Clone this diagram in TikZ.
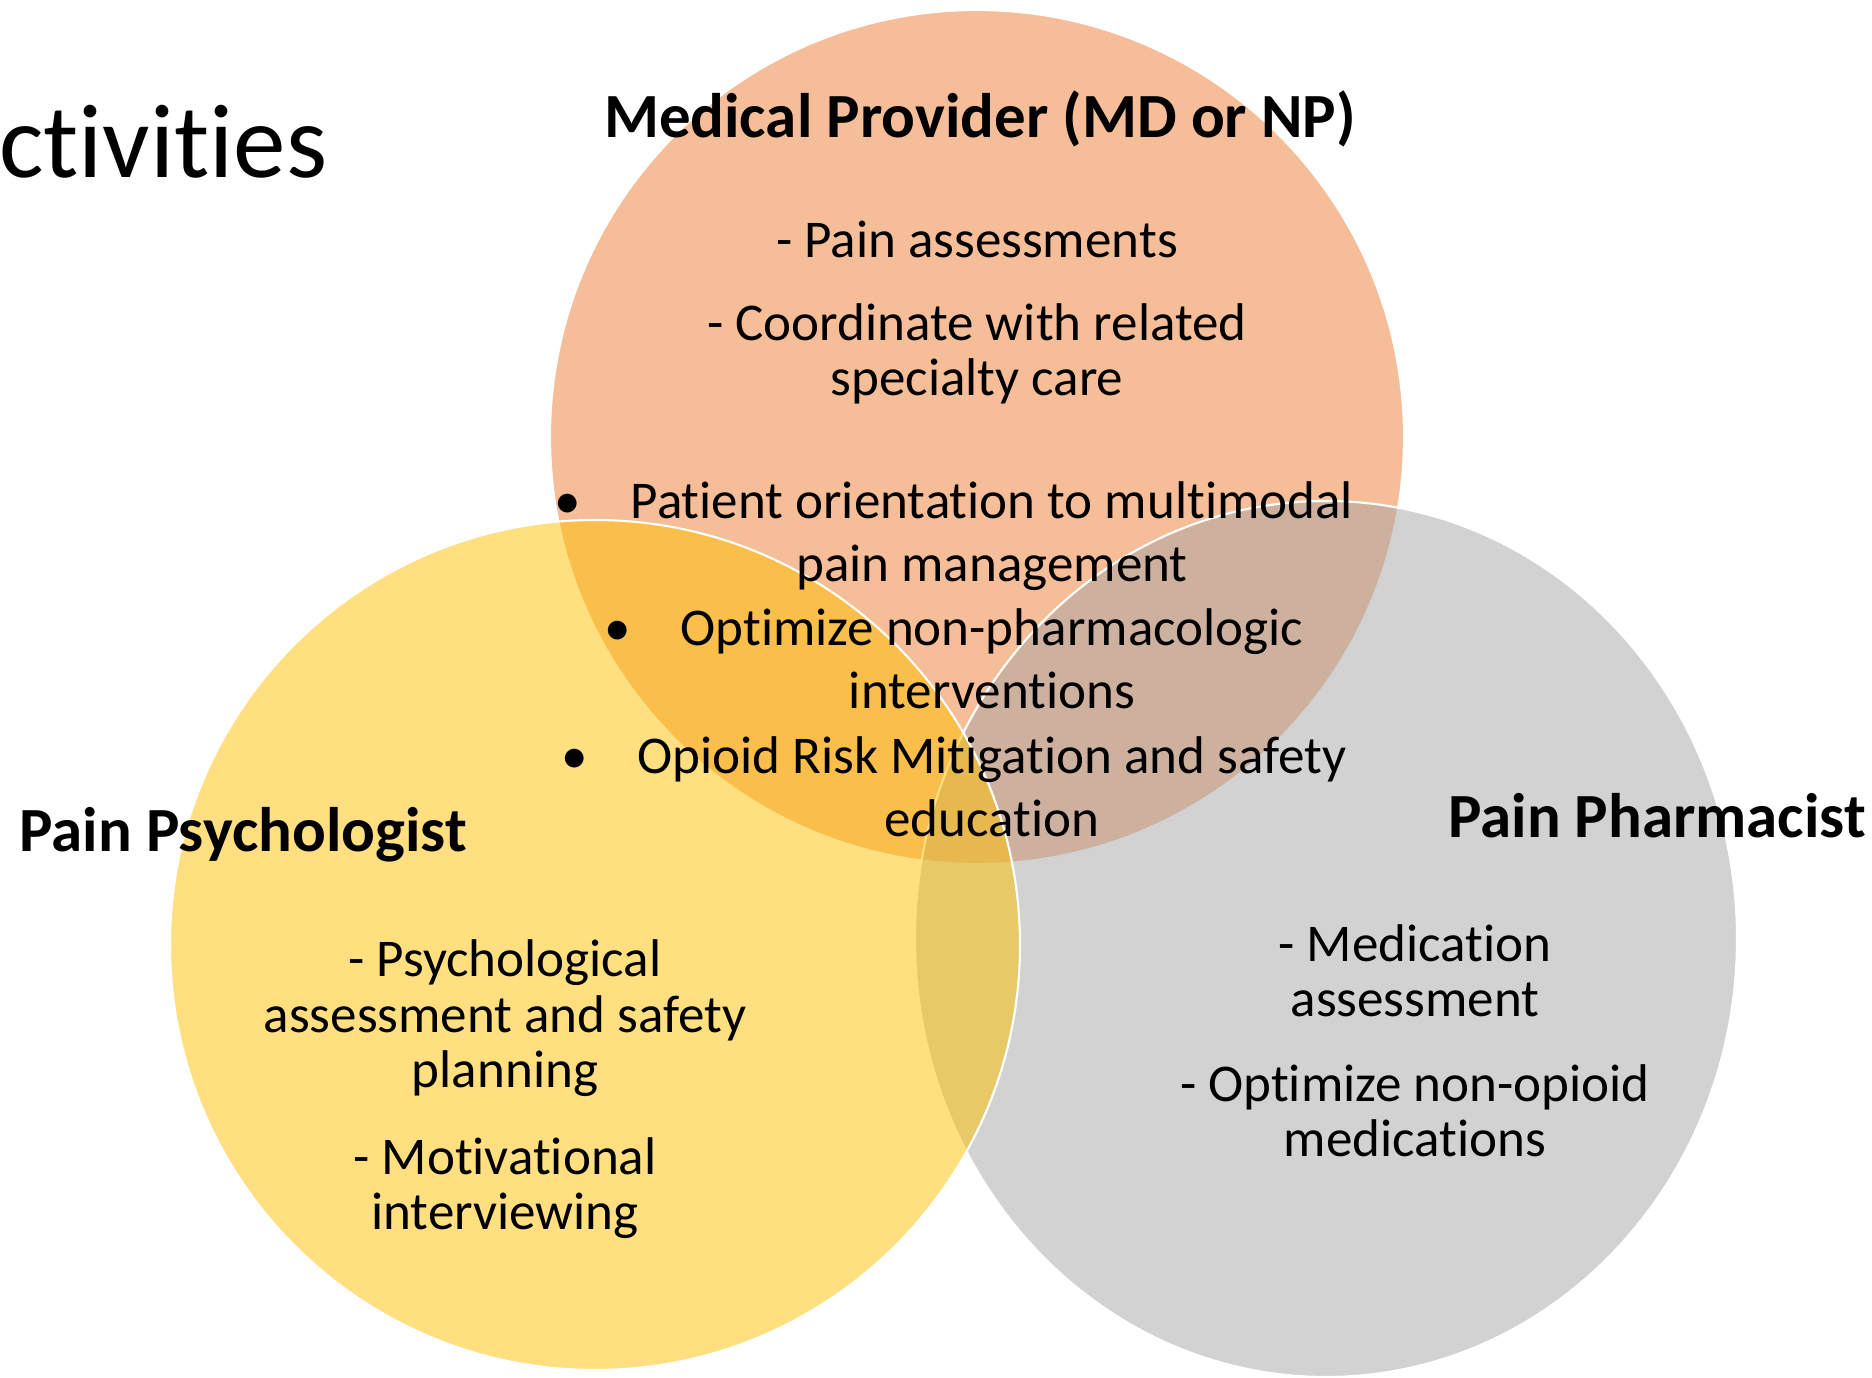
\documentclass[tikz,border=0pt]{standalone}
\usepackage{fontspec}
\setmainfont{Carlito}[Ligatures={NoCommon}]
\definecolor{provOrange}{HTML}{ED7D31}
\definecolor{psychGold}{HTML}{FFC000}
\definecolor{pharmGrey}{HTML}{A5A5A5}

\begin{document}
\begin{tikzpicture}[
  venn/.style={draw=white,line width=0.6pt,fill opacity=0.5},
  role/.style={anchor=base,inner sep=0pt,font=\fontsize{17.9}{21.5}\selectfont\bfseries},
  task/.style={anchor=base,inner sep=0pt,align=center,font=\fontsize{15.1}{15.9}\selectfont},
  shared/.style={anchor=base,inner sep=0pt,align=center,font=\fontsize{15.1}{18.2}\selectfont}]
  \clip (0,0) rectangle (18.72,-13.78);
  % circulos del diagrama
  \draw[venn,fill=provOrange] (9.77,-4.37) circle (4.27);
  \draw[venn,fill=pharmGrey] (13.26,-9.39) ellipse [x radius=4.11,y radius=4.38];
  \draw[venn,fill=psychGold] (5.95,-9.45) circle (4.25);
  % titulo
  \node[anchor=base east,inner sep=0pt,font=\fontsize{29.9}{36}\selectfont] (heading) at (3.28,-1.78) {ctivities};
  % roles
  \node[role] (provider) at (9.80,-1.38) {Medical Provider (MD or NP)};
  \node[role] (psych) at (2.43,-8.52) {Pain Psychologist};
  \node[role] (pharm) at (16.57,-8.38) {Pain Pharmacist};
  % tareas de cada rol (base = ultima linea)
  \node[task] (provA) at (9.77,-2.58) {- Pain assessments};
  \node[task] (provB) at (9.77,-3.96) {- Coordinate with related\\specialty care};
  \node[task] (psychA) at (5.05,-10.88) {- Psychological\\assessment and safety\\planning};
  \node[task] (psychB) at (5.05,-12.30) {- Motivational\\interviewing};
  \node[task] (pharmA) at (14.15,-10.17) {- Medication\\assessment};
  \node[task] (pharmB) at (14.15,-11.57) {- Optimize non-opioid\\medications};
  % tareas compartidas
  \node[shared] (orient) at (9.92,-5.82) {Patient orientation to multimodal\\pain management};
  \node[shared] (nonpharm) at (9.92,-7.09) {Optimize non-pharmacologic\\interventions};
  \node[shared] (risk) at (9.92,-8.37) {Opioid Risk Mitigation and safety\\education};
  \foreach \item in {orient,nonpharm,risk}
    \node[anchor=base,inner sep=0pt,font=\fontsize{15.1}{18.2}\selectfont] at ([xshift=-0.62cm,yshift=18.2pt]\item.base west) {\textbullet};
\end{tikzpicture}
\end{document}
